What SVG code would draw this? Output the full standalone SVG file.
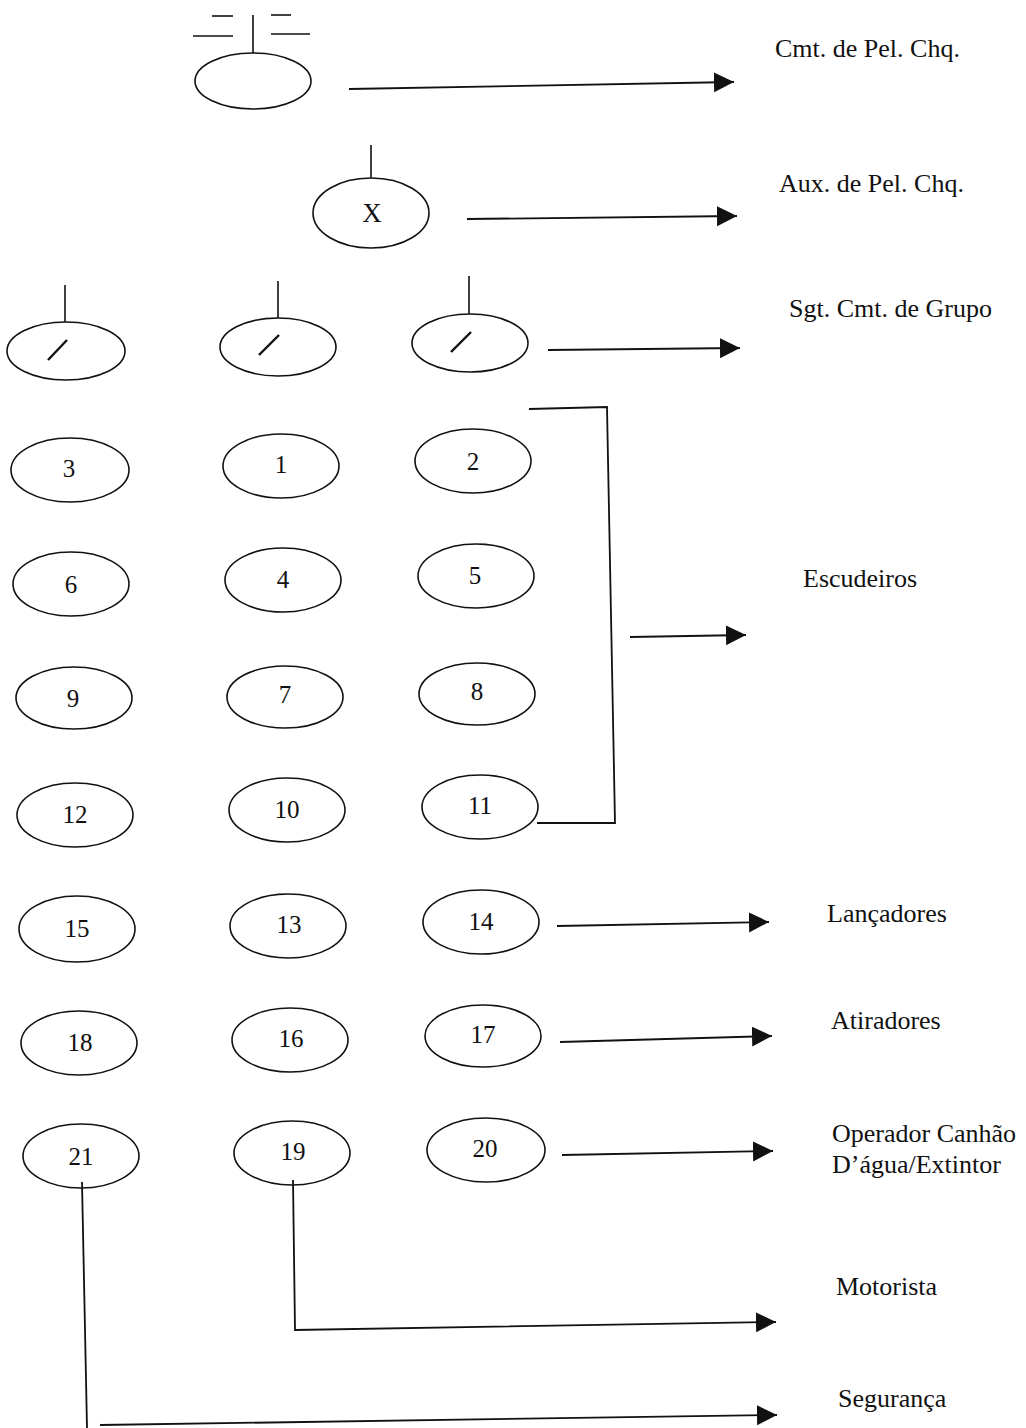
<svg xmlns="http://www.w3.org/2000/svg" width="1026" height="1428" viewBox="0 0 1026 1428">
<style>
.sh{fill:none;stroke:#111;stroke-width:1.6}
.ln{fill:none;stroke:#111;stroke-width:1.8}
.num{font-family:"Liberation Serif","Times New Roman",serif;font-size:25px;fill:#111;text-anchor:middle}
.lbl{font-family:"Liberation Serif","Times New Roman",serif;font-size:26px;fill:#111}
</style>
<defs>
<marker id="ah" markerUnits="userSpaceOnUse" markerWidth="22" markerHeight="22" refX="20" refY="10" orient="auto">
<path d="M0,0 L20,10 L0,20 z" fill="#111"/>
</marker>
</defs>
<rect width="1026" height="1428" fill="#fff"/>

<g id="cmt-pel">
<ellipse class="sh" cx="253" cy="81" rx="58" ry="28"/>
<line class="sh" x1="253" y1="15" x2="253" y2="53"/>
<line class="sh" x1="212" y1="16" x2="233" y2="16"/>
<line class="sh" x1="193" y1="36" x2="233" y2="36"/>
<line class="sh" x1="271" y1="15" x2="291" y2="15"/>
<line class="sh" x1="271" y1="34" x2="310" y2="34"/>
</g>
<g id="aux-pel">
<ellipse class="sh" cx="371" cy="213" rx="58" ry="35"/>
<line class="sh" x1="371" y1="145" x2="371" y2="178"/>
<text class="num" x="372" y="222" style="font-size:27px">X</text>
</g>
<g id="sgt-1">
<ellipse class="sh" cx="66" cy="351" rx="59" ry="29"/>
<line class="sh" x1="65" y1="285" x2="65" y2="322"/>
<line class="sh" x1="48" y1="360" x2="67" y2="340" style="stroke-width:2.4"/>
</g>
<g id="sgt-2">
<ellipse class="sh" cx="278" cy="347" rx="58" ry="29"/>
<line class="sh" x1="278" y1="281" x2="278" y2="318"/>
<line class="sh" x1="259" y1="355" x2="279" y2="335" style="stroke-width:2.4"/>
</g>
<g id="sgt-3">
<ellipse class="sh" cx="470" cy="343" rx="58" ry="29"/>
<line class="sh" x1="469" y1="276" x2="469" y2="314"/>
<line class="sh" x1="451" y1="352" x2="471" y2="332" style="stroke-width:2.4"/>
</g>

<g id="n3"><ellipse class="sh" cx="70" cy="470" rx="59" ry="32"/><text class="num" x="69" y="477">3</text></g>
<g id="n1"><ellipse class="sh" cx="281" cy="466" rx="58" ry="32"/><text class="num" x="281" y="473">1</text></g>
<g id="n2"><ellipse class="sh" cx="473" cy="461" rx="58" ry="32"/><text class="num" x="473" y="470">2</text></g>
<g id="n6"><ellipse class="sh" cx="71" cy="584" rx="58" ry="32"/><text class="num" x="71" y="593">6</text></g>
<g id="n4"><ellipse class="sh" cx="283" cy="580" rx="58" ry="32"/><text class="num" x="283" y="588">4</text></g>
<g id="n5"><ellipse class="sh" cx="476" cy="576" rx="58" ry="32"/><text class="num" x="475" y="584">5</text></g>
<g id="n9"><ellipse class="sh" cx="74" cy="698" rx="58" ry="31"/><text class="num" x="73" y="707">9</text></g>
<g id="n7"><ellipse class="sh" cx="285" cy="697" rx="58" ry="31"/><text class="num" x="285" y="703">7</text></g>
<g id="n8"><ellipse class="sh" cx="477" cy="694" rx="58" ry="31"/><text class="num" x="477" y="700">8</text></g>
<g id="n12"><ellipse class="sh" cx="75" cy="815" rx="58" ry="32"/><text class="num" x="75" y="823">12</text></g>
<g id="n10"><ellipse class="sh" cx="287" cy="810" rx="58" ry="32"/><text class="num" x="287" y="818">10</text></g>
<g id="n11"><ellipse class="sh" cx="480" cy="807" rx="58" ry="32"/><text class="num" x="480" y="814">11</text></g>
<g id="n15"><ellipse class="sh" cx="77" cy="929" rx="58" ry="33"/><text class="num" x="77" y="937">15</text></g>
<g id="n13"><ellipse class="sh" cx="288" cy="926" rx="58" ry="32"/><text class="num" x="289" y="933">13</text></g>
<g id="n14"><ellipse class="sh" cx="481" cy="922" rx="58" ry="32"/><text class="num" x="481" y="930">14</text></g>
<g id="n18"><ellipse class="sh" cx="79" cy="1043" rx="58" ry="32"/><text class="num" x="80" y="1051">18</text></g>
<g id="n16"><ellipse class="sh" cx="290" cy="1040" rx="58" ry="32"/><text class="num" x="291" y="1047">16</text></g>
<g id="n17"><ellipse class="sh" cx="483" cy="1036" rx="58" ry="31"/><text class="num" x="483" y="1043">17</text></g>
<g id="n21"><ellipse class="sh" cx="81" cy="1156" rx="58" ry="32"/><text class="num" x="81" y="1165">21</text></g>
<g id="n19"><ellipse class="sh" cx="292" cy="1153" rx="58" ry="32"/><text class="num" x="293" y="1160">19</text></g>
<g id="n20"><ellipse class="sh" cx="486" cy="1150" rx="59" ry="32"/><text class="num" x="485" y="1157">20</text></g>

<g id="labels">
<text class="lbl" x="775" y="57">Cmt. de Pel. Chq.</text>
<text class="lbl" x="779" y="192">Aux. de Pel. Chq.</text>
<text class="lbl" x="789" y="317">Sgt. Cmt. de Grupo</text>
<text class="lbl" x="803" y="587">Escudeiros</text>
<text class="lbl" x="827" y="922">Lançadores</text>
<text class="lbl" x="831" y="1029">Atiradores</text>
<text class="lbl" x="832" y="1142">Operador Canhão</text>
<text class="lbl" x="832" y="1173">D’água/Extintor</text>
<text class="lbl" x="836" y="1295">Motorista</text>
<text class="lbl" x="838" y="1407">Segurança</text>
</g>

<g id="connectors">
<line class="ln" x1="349" y1="89" x2="734" y2="82" marker-end="url(#ah)"/>
<line class="ln" x1="467" y1="219" x2="737" y2="216" marker-end="url(#ah)"/>
<line class="ln" x1="548" y1="350" x2="740" y2="348" marker-end="url(#ah)"/>
<polyline class="ln" points="529,409 607,407 615,823 537,823"/>
<line class="ln" x1="630" y1="637" x2="746" y2="635" marker-end="url(#ah)"/>
<line class="ln" x1="557" y1="926" x2="769" y2="922" marker-end="url(#ah)"/>
<line class="ln" x1="560" y1="1042" x2="772" y2="1036" marker-end="url(#ah)"/>
<line class="ln" x1="562" y1="1155" x2="773" y2="1151" marker-end="url(#ah)"/>
<polyline class="ln" points="293,1180 295,1330 776,1322" marker-end="url(#ah)"/>
<line class="ln" x1="82" y1="1182" x2="87" y2="1428"/>
<line class="ln" x1="100" y1="1425" x2="777" y2="1415" marker-end="url(#ah)"/>
</g>
</svg>
